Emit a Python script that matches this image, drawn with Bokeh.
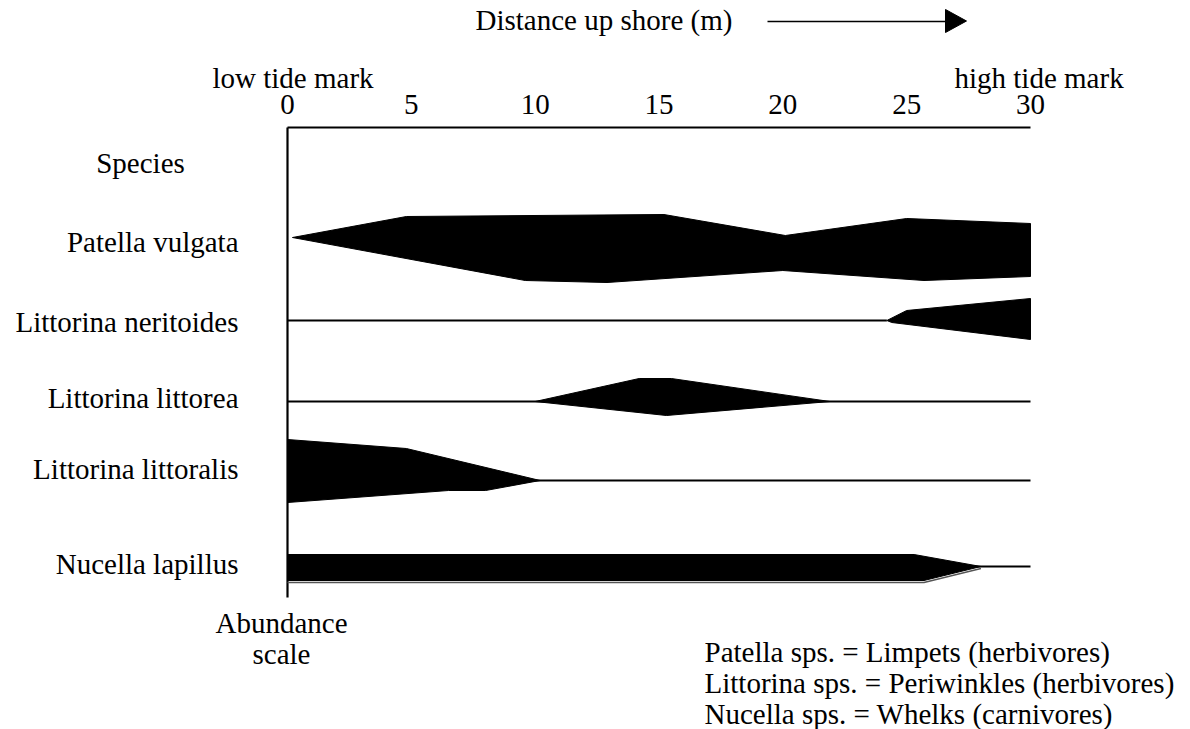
from bokeh.plotting import figure
from bokeh.models import Range1d
from bokeh.core.properties import value
from bokeh.embed import file_html
from bokeh.resources import INLINE

# ---------------- data ----------------
species = ["Patella vulgata", "Littorina neritoides", "Littorina littorea",
           "Littorina littoralis", "Nucella lapillus"]
# vertical position of each species row (abundance units, downwards)
row_centre = [237, 320, 401, 480, 566]
# extent of the zero-abundance line for each row (m); None = no line
line_from = [None, 0, 0, 0, 0]
line_to = [None, 24.2, 30, 30, 30]

# kite outlines: distance up shore (m) and abundance above / below the row line
pv_up_x = [0.2, 4.8, 15.2, 20.1, 25.0, 30.0]
pv_up = [0, 21, 23, 2, 19, 14]
pv_lo_x = [0.2, 9.6, 12.9, 20.0, 25.7, 30.0]
pv_lo = [0, 43, 45, 33, 43, 39]

ln_up_x = [24.2, 25.0, 30.0]
ln_up = [0, 10, 22]
ln_lo_x = [24.2, 24.4, 30.0]
ln_lo = [0, 2, 19]

lt_up_x = [10.0, 14.2, 15.5, 21.9]
lt_up = [0, 23, 23, 0]
lt_lo_x = [10.0, 15.3, 21.9]
lt_lo = [0, 14, 0]

ll_up_x = [0.0, 4.8, 10.2]
ll_up = [41, 32, 0]
ll_lo_x = [0.0, 6.5, 8.0, 10.2]
ll_lo = [22, 10, 10, 0]

nl_up_x = [0.0, 25.3, 28.0]
nl_up = [12, 12, 0]
nl_lo_x = [0.0, 25.7, 28.0]
nl_lo = [14, 14, 0]

kites = [(pv_up_x, pv_up, pv_lo_x, pv_lo),
         (ln_up_x, ln_up, ln_lo_x, ln_lo),
         (lt_up_x, lt_up, lt_lo_x, lt_lo),
         (ll_up_x, ll_up, ll_lo_x, ll_lo),
         (nl_up_x, nl_up, nl_lo_x, nl_lo)]

tick_values = [0, 5, 10, 15, 20, 25, 30]
tick_labels = ["0", "5", "10", "15", "20", "25", "30"]

legend_lines = ["Patella sps. = Limpets (herbivores)",
                "Littorina sps. = Periwinkles (herbivores)",
                "Nucella sps. = Whelks (carnivores)"]

# ---------------- layout ----------------
W, H = 1190, 729
PX0, PX30 = 287.0, 1030.0           # page x of 0 m and 30 m
S = (PX30 - PX0) / 30.0


def px2x(px):
    return (px - PX0) / S


FONT = value("Liberation Serif")
FS = value("29px")

p = figure(width=W, height=H, output_backend="svg", toolbar_location=None,
           x_axis_type=None, y_axis_type=None, min_border=0,
           x_range=Range1d(px2x(0), px2x(W)),
           y_range=Range1d(H, 0))
p.outline_line_color = None
p.background_fill_color = "white"
p.border_fill_color = "white"
p.title.visible = False

# frame lines (top and left)
AX_TOP, AX_BOT = 127, 597
p.line([0, 0], [AX_TOP, AX_BOT], line_color="black", line_width=2.2)
p.line([0, 30], [AX_TOP, AX_TOP], line_color="black", line_width=2.2)

# zero-abundance lines
for c, a, b in zip(row_centre, line_from, line_to):
    if a is not None:
        p.line([a, b], [c, c], line_color="black", line_width=2.2)

# kites
for c, (ux, u, lx, lo) in zip(row_centre, kites):
    xs = list(ux) + list(reversed(lx))
    ys = [c - v for v in u] + list(reversed([c + v for v in lo]))
    p.patch(xs, ys, fill_color="black", line_color="black", line_width=1)

# grey double edge under the Nucella kite
c = row_centre[4]
p.line(nl_lo_x, [c + v + 2 for v in nl_lo], line_color="#555555", line_width=1.3)

# tick labels
p.text(x=tick_values, y=[104] * len(tick_values), text=tick_labels,
       text_font=FONT, text_font_size=FS, text_align="center",
       text_baseline="alphabetic", text_color="black")

# species labels
label_base = [241, 321, 397, 468, 563]
p.text(x=[px2x(238)] * len(species), y=label_base, text=species,
       text_font=FONT, text_font_size=FS, text_align="right",
       text_baseline="alphabetic", text_color="black")

# other texts
p.text(x=[px2x(140)], y=[162], text=["Species"], text_font=FONT, text_font_size=FS,
       text_align="center", text_baseline="alphabetic", text_color="black")
p.text(x=[px2x(212)], y=[77], text=["low tide mark"], text_font=FONT, text_font_size=FS,
       text_align="left", text_baseline="alphabetic", text_color="black")
p.text(x=[px2x(954)], y=[77], text=["high tide mark"], text_font=FONT, text_font_size=FS,
       text_align="left", text_baseline="alphabetic", text_color="black")
p.text(x=[px2x(475)], y=[19], text=["Distance up shore (m)"], text_font=FONT,
       text_font_size=FS, text_align="left", text_baseline="alphabetic",
       text_color="black")
p.text(x=[px2x(281)] * 2, y=[622, 653], text=["Abundance", "scale"], text_font=FONT,
       text_font_size=FS, text_align="center", text_baseline="alphabetic",
       text_color="black")
p.text(x=[px2x(704)] * 3, y=[651, 682, 713], text=legend_lines, text_font=FONT,
       text_font_size=FS, text_align="left", text_baseline="alphabetic",
       text_color="black")

# arrow next to the distance label
p.line([px2x(767), px2x(946)], [21, 21], line_color="black", line_width=1.5)
p.patch([px2x(945), px2x(966), px2x(945)], [9, 20.5, 32],
        fill_color="black", line_color="black")

open("out.html", "w").write(file_html(p, INLINE))
